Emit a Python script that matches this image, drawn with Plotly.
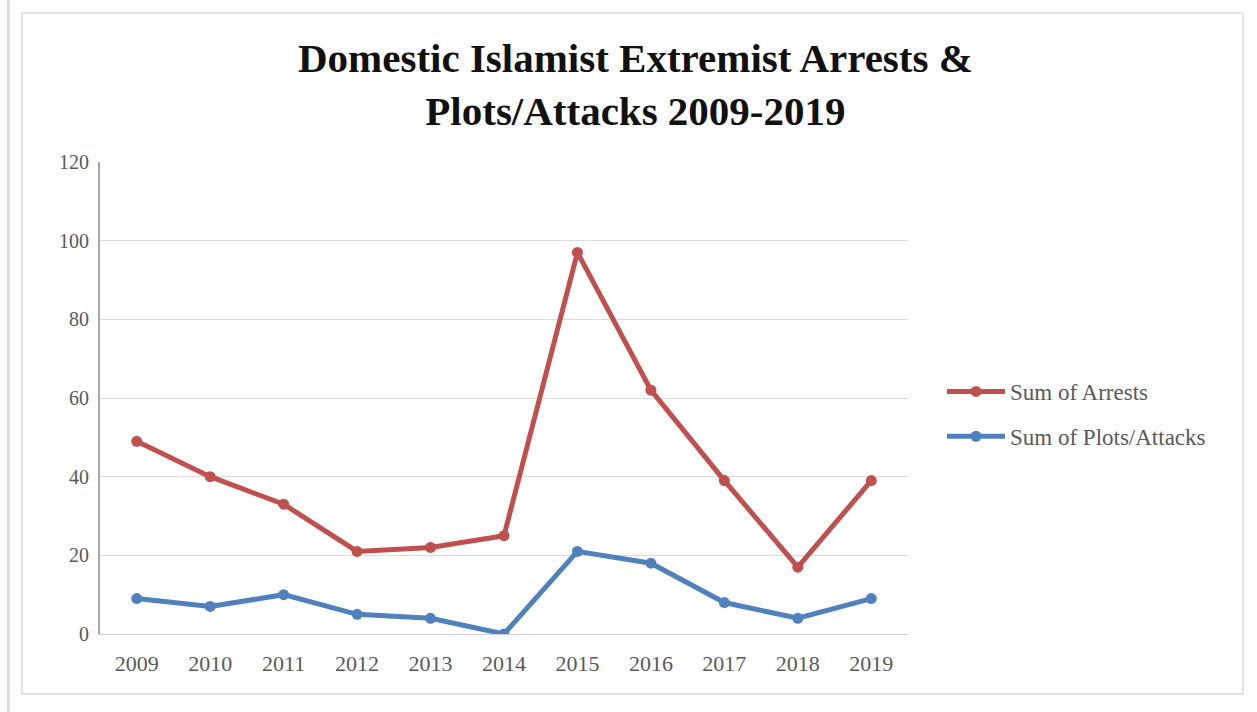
import plotly.graph_objects as go

years = ["2009", "2010", "2011", "2012", "2013", "2014", "2015", "2016", "2017", "2018", "2019"]
arrests = [49, 40, 33, 21, 22, 25, 97, 62, 39, 17, 39]
plots_attacks = [9, 7, 10, 5, 4, 0, 21, 18, 8, 4, 9]
y_ticks = [0, 20, 40, 60, 80, 100, 120]

title_text = "Domestic Islamist Extremist Arrests &<br>Plots/Attacks 2009-2019"

RED = "#C0504D"
BLUE = "#4F81BD"
SERIF = "Liberation Serif, DejaVu Serif, serif"

fig = go.Figure()
fig.add_trace(go.Scatter(
    x=years, y=arrests, name="Sum of Arrests", mode="lines+markers",
    line=dict(color=RED, width=5), marker=dict(color=RED, size=11),
    legendgroup="a"))
fig.add_trace(go.Scatter(
    x=years, y=plots_attacks, name="Sum of Plots/Attacks", mode="lines+markers",
    line=dict(color=BLUE, width=5), marker=dict(color=BLUE, size=11),
    legendgroup="b"))

L, R, T, B = 100, 908, 162, 634
W, H = 1257, 712
pw, ph = R - L, B - T

def px(x):
    return (x - L) / pw

def py(y):
    return (B - y) / ph

fig.update_layout(
    width=W, height=H,
    margin=dict(l=L, r=W - R, t=T, b=H - B, pad=0),
    paper_bgcolor="white", plot_bgcolor="white",
    showlegend=True,
    legend=dict(x=px(942), y=py(414), xanchor="left", yanchor="middle",
                font=dict(family=SERIF, size=23, color="#595959"),
                traceorder="grouped", tracegroupgap=12,
                bgcolor="rgba(0,0,0,0)", itemwidth=58),
    xaxis=dict(type="category", showgrid=False, showline=True, linecolor="#d0d0d0", linewidth=1,
               ticks="", ticklabelstandoff=10,
               tickfont=dict(family=SERIF, size=22, color="#595959"),
               range=[-0.5, 10.5], fixedrange=True),
    yaxis=dict(range=[0, 120], tickvals=y_ticks, showgrid=True, gridcolor="#dcdcdc", gridwidth=1,
               showline=True, linecolor="#a6a6a6", linewidth=2, zeroline=False,
               ticks="", ticklabelstandoff=5,
               tickfont=dict(family=SERIF, size=20, color="#595959")),
    annotations=[dict(text=title_text, xref="paper", yref="paper", x=px(635), y=py(84),
                      xanchor="center", yanchor="middle", showarrow=False,
                      font=dict(family=SERIF, size=41, color="#111111", weight="bold"))],
    shapes=[
        dict(type="rect", xref="paper", yref="paper", x0=px(22), x1=px(1243), y0=py(694), y1=py(13),
             line=dict(color="#e3e3e3", width=2), fillcolor="rgba(0,0,0,0)", layer="below"),
        dict(type="rect", xref="paper", yref="paper", x0=px(7), x1=px(10), y0=py(712), y1=py(0),
             line=dict(width=0), fillcolor="#dddddd", layer="below"),
    ],
)

fig.write_html("out.html", config={"displayModeBar": False},
               post_script="document.body.style.margin='0';")
